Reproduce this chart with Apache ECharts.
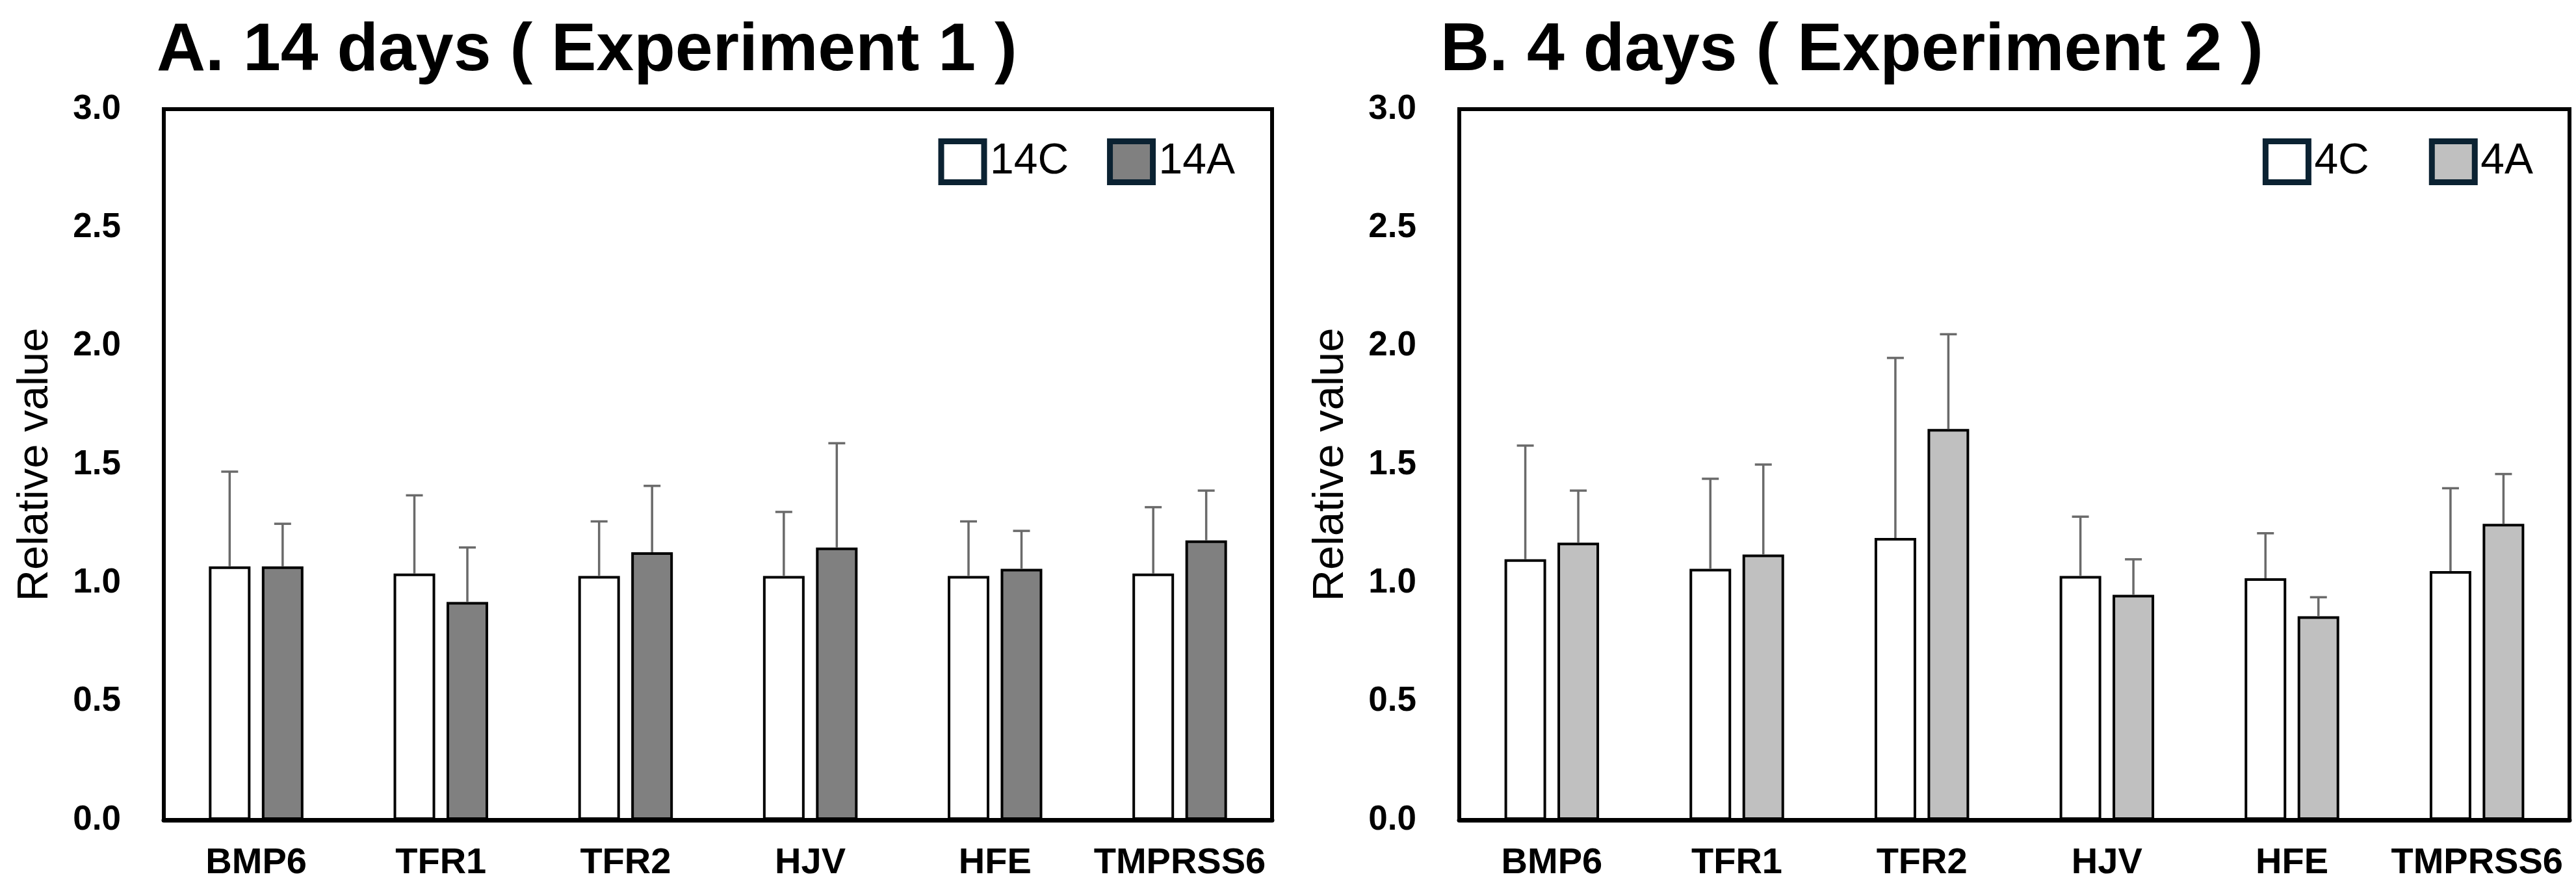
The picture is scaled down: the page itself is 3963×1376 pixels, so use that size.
<!DOCTYPE html>
<html>
<head>
<meta charset="utf-8">
<script src="https://cdn.jsdelivr.net/npm/echarts@6.0.0/dist/echarts.min.js"></script>
<style>
  html, body { margin: 0; padding: 0; background: #fff; }
  #chart { width: 3963px; height: 1376px; }
</style>
</head>
<body>
<div id="chart"></div>
<script>
// genes on the x axis
var genes = ["BMP6", "TFR1", "TFR2", "HJV", "HFE", "TMPRSS6"];
var yTicks = [0, 0.5, 1, 1.5, 2, 2.5, 3];

// A. 14 days (experiment 1): mean and upper SD
var c14Mean = [1.07, 1.04, 1.03, 1.03, 1.03, 1.04];
var c14Sd   = [0.40, 0.33, 0.23, 0.27, 0.23, 0.28];
var a14Mean = [1.07, 0.92, 1.13, 1.15, 1.06, 1.18];
var a14Sd   = [0.18, 0.23, 0.28, 0.44, 0.16, 0.21];

// B. 4 days (experiment 2)
var c4Mean = [1.10, 1.06, 1.19, 1.03, 1.02, 1.05];
var c4Sd   = [0.48, 0.38, 0.76, 0.25, 0.19, 0.35];
var a4Mean = [1.17, 1.12, 1.65, 0.95, 0.86, 1.25];
var a4Sd   = [0.22, 0.38, 0.40, 0.15, 0.08, 0.21];

var FONT = "'Liberation Sans', Arial, Helvetica, sans-serif";
var BAR_W = 64;
var BAR_GAP = 17.5;
var OFFSET = (BAR_W + BAR_GAP) / 2;

var chart = echarts.init(document.getElementById("chart"), null, { renderer: "canvas" });

function errData(mean, sd) {
  return mean.map(function (m, i) { return [i, m, sd[i]]; });
}

function errSeries(name, idx, mean, sd, side) {
  return {
    type: "custom",
    name: name + "_err",
    xAxisIndex: idx,
    yAxisIndex: idx,
    z: 5,
    silent: true,
    encode: { x: 0, y: 1 },
    data: errData(mean, sd),
    renderItem: function (params, api) {
      var base = api.coord([api.value(0), api.value(1)]);
      var top = api.coord([api.value(0), api.value(1) + api.value(2)]);
      var x = base[0] + side * OFFSET;
      var style = { stroke: "#6a6a6a", lineWidth: 3.5 };
      return {
        type: "group",
        children: [
          { type: "line", shape: { x1: x, y1: base[1], x2: x, y2: top[1] }, style: style },
          { type: "line", shape: { x1: x - 13, y1: top[1], x2: x + 13, y2: top[1] }, style: style }
        ]
      };
    }
  };
}

function barSeries(name, idx, mean, fill) {
  return {
    type: "bar",
    name: name,
    xAxisIndex: idx,
    yAxisIndex: idx,
    barWidth: BAR_W,
    barGap: (BAR_GAP / BAR_W * 100).toFixed(1) + "%",
    itemStyle: { color: fill, borderColor: "#000", borderWidth: 4 },
    data: mean
  };
}

function xAxis(idx) {
  return {
    type: "category",
    gridIndex: idx,
    data: genes,
    axisTick: { show: false },
    axisLine: { lineStyle: { color: "#000", width: 7 } },
    axisLabel: { interval: 0, color: "#000", fontFamily: FONT, fontWeight: "bold", fontSize: 56, margin: 39 }
  };
}

function yAxis(idx) {
  return {
    type: "value",
    gridIndex: idx,
    min: yTicks[0],
    max: yTicks[yTicks.length - 1],
    interval: 0.5,
    name: "Relative value",
    nameLocation: "middle",
    nameGap: 164,
    nameTextStyle: { color: "#000", fontFamily: FONT, fontSize: 67 },
    splitLine: { show: false },
    axisTick: { show: false },
    axisLine: { show: true, lineStyle: { color: "#000", width: 6 } },
    axisLabel: {
      color: "#000", fontFamily: FONT, fontWeight: "bold", fontSize: 53, margin: 66,
      formatter: function (v) { return v.toFixed(1); }
    }
  };
}

function legend(names, right, gap) {
  return {
    data: names,
    icon: "rect",
    right: right,
    top: 208,
    itemWidth: 66,
    itemHeight: 63,
    itemGap: gap,
    itemStyle: { borderColor: "#0b2232", borderWidth: 9 },
    textStyle: { color: "#000", fontFamily: FONT, fontSize: 66, padding: [0, 0, 0, 4] }
  };
}

var option = {
  backgroundColor: "#fff",
  animation: false,
  title: [
    { text: "A. 14 days ( Experiment 1 )", left: 236, top: 22,
      textStyle: { color: "#000", fontFamily: FONT, fontWeight: "bold", fontSize: 104 } },
    { text: "B. 4 days ( Experiment 2 )", left: 2211, top: 22,
      textStyle: { color: "#000", fontFamily: FONT, fontWeight: "bold", fontSize: 104 } }
  ],
  legend: [
    legend(["14C", "14A"], 2058, 59),
    legend(["4C", "4A"], 61, 92)
  ],
  grid: [
    { left: 252, right: 2006, top: 168, bottom: 114, show: true, borderColor: "#000", borderWidth: 6 },
    { left: 2245, right: 10, top: 168, bottom: 114, show: true, borderColor: "#000", borderWidth: 6 }
  ],
  xAxis: [xAxis(0), xAxis(1)],
  yAxis: [yAxis(0), yAxis(1)],
  series: [
    barSeries("14C", 0, c14Mean, "#ffffff"),
    barSeries("14A", 0, a14Mean, "#808080"),
    errSeries("14C", 0, c14Mean, c14Sd, -1),
    errSeries("14A", 0, a14Mean, a14Sd, 1),
    barSeries("4C", 1, c4Mean, "#ffffff"),
    barSeries("4A", 1, a4Mean, "#c0c0c0"),
    errSeries("4C", 1, c4Mean, c4Sd, -1),
    errSeries("4A", 1, a4Mean, a4Sd, 1)
  ]
};

chart.setOption(option);
</script>
</body>
</html>
